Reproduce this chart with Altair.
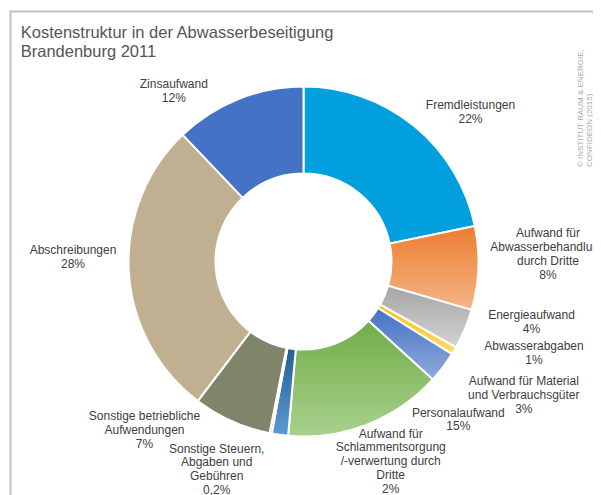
import altair as alt
import pandas as pd

# ---- data ----
categories = [
    "Fremdleistungen",
    "Aufwand für Abwasserbehandlung durch Dritte",
    "Energieaufwand",
    "Abwasserabgaben",
    "Aufwand für Material und Verbrauchsgüter",
    "Personalaufwand",
    "Aufwand für Schlammentsorgung /-verwertung durch Dritte",
    "Sonstige Steuern, Abgaben und Gebühren",
    "Sonstige betriebliche Aufwendungen",
    "Abschreibungen",
    "Zinsaufwand",
]
shares = [21.7, 7.7, 3.7, 0.7, 2.9, 14.6, 1.5, 0.2, 7.2, 27.5, 12.1]
pct_labels = ["22%", "8%", "4%", "1%", "3%", "15%", "2%", "0,2%", "7%", "28%", "12%"]
label_lines = [
    ["Fremdleistungen"],
    ["Aufwand für", "Abwasserbehandlung", "durch Dritte"],
    ["Energieaufwand"],
    ["Abwasserabgaben"],
    ["Aufwand für Material", "und Verbrauchsgüter"],
    ["Personalaufwand"],
    ["Aufwand für", "Schlammentsorgung", "/-verwertung durch", "Dritte"],
    ["Sonstige Steuern,", "Abgaben und", "Gebühren"],
    ["Sonstige betriebliche", "Aufwendungen"],
    ["Abschreibungen"],
    ["Zinsaufwand"],
]
title_lines = ["Kostenstruktur in der Abwasserbeseitigung", "Brandenburg 2011"]
credit_lines = ["© INSTITUT RAUM & ENERGIE,", "CONFIDEON (2015)"]

# ---- styles (top colour, bottom colour of each slice) ----
slice_colors = [
    ("#019FDE", "#019FDE"),
    ("#ED7D31", "#F5B486"),
    ("#A5A5A5", "#D3D3D3"),
    ("#FFC000", "#FFDA70"),
    ("#4472C4", "#8FAADC"),
    ("#70AD47", "#A9D18E"),
    ("#255E91", "#5B9BD5"),
    ("#264478", "#264478"),
    ("#80846A", "#80846A"),
    ("#C0B091", "#C0B091"),
    ("#4472C4", "#4472C4"),
]
# label anchor (centre x, first baseline y) in chart pixels
label_pos = [
    (462.5, 101.3), (540, 229.3), (523.5, 311), (526, 342), (515.8, 377),
    (450.3, 408.7), (382.7, 429.7), (208.7, 444.7), (136.5, 412), (65, 246.3),
    (165.8, 80.3),
]
CX, CY = 295.5, 253.5
R_OUT, R_IN = 175, 88
TEXT = "#404040"
FONT = "Liberation Sans"

df = pd.DataFrame({"cat": categories, "share": shares, "idx": list(range(len(categories)))})

base = (
    alt.Chart(df)
    .transform_window(cum="sum(share)", sort=[alt.SortField("idx")], frame=[None, 0])
    .transform_joinaggregate(total="sum(share)")
    .transform_calculate(
        start="(datum.cum - datum.share) / datum.total",
        end="datum.cum / datum.total",
    )
)

theta = alt.Theta("start:Q", scale=alt.Scale(domain=[0, 1], range=[0, 6.283185307179586]))

layers = []
for i, cat in enumerate(categories):
    top, bottom = slice_colors[i]
    if top == bottom:
        fill = top
    else:
        fill = {
            "gradient": "linear", "x1": 0, "y1": 0, "x2": 0, "y2": 1,
            "stops": [{"offset": 0, "color": top}, {"offset": 1, "color": bottom}],
        }
    layers.append(
        base.transform_filter(alt.datum.cat == cat)
        .mark_arc(fill=fill, stroke="white", strokeWidth=2,
                  outerRadius=R_OUT, innerRadius=R_IN)
        .encode(theta=theta, theta2="end:Q", x=alt.value(CX), y=alt.value(CY))
    )

for i, cat in enumerate(categories):
    lx, ly = label_pos[i]
    layers.append(
        base.transform_filter(alt.datum.cat == cat)
        .mark_text(text=label_lines[i] + [pct_labels[i]], font=FONT, fontSize=12,
                   color=TEXT, align="center", baseline="alphabetic", lineHeight=13.8)
        .encode(x=alt.value(lx), y=alt.value(ly))
    )

one = alt.Chart(pd.DataFrame({"k": [0]}))

# frame lines
layers.append(one.mark_rule(color="#C3C3C3", strokeWidth=2).encode(
    x=alt.value(2), x2=alt.value(585), y=alt.value(3.5)))
layers.append(one.mark_rule(color="#C3C3C3", strokeWidth=2).encode(
    x=alt.value(2.5), y=alt.value(2.5), y2=alt.value(495)))

# title
layers.append(one.mark_text(text=title_lines, font=FONT, fontSize=16.5,
                            color="#555555", align="left", baseline="alphabetic",
                            lineHeight=19).encode(x=alt.value(12.7), y=alt.value(30)))

# credit, rotated
for j, line in enumerate(credit_lines):
    layers.append(one.mark_text(text=line, font=FONT, fontSize=8, color="#A8A8A8",
                                align="left", baseline="middle", angle=270).encode(
        x=alt.value(573 + 8.5 * j), y=alt.value(159)))

chart = (
    alt.layer(*layers)
    .properties(width=585, height=492, padding=0,
                autosize=alt.AutoSizeParams(type="fit", contains="padding"))
    .configure_view(stroke=None)
)

chart.save("out.html", embed_options={"renderer": "svg", "actions": False})
